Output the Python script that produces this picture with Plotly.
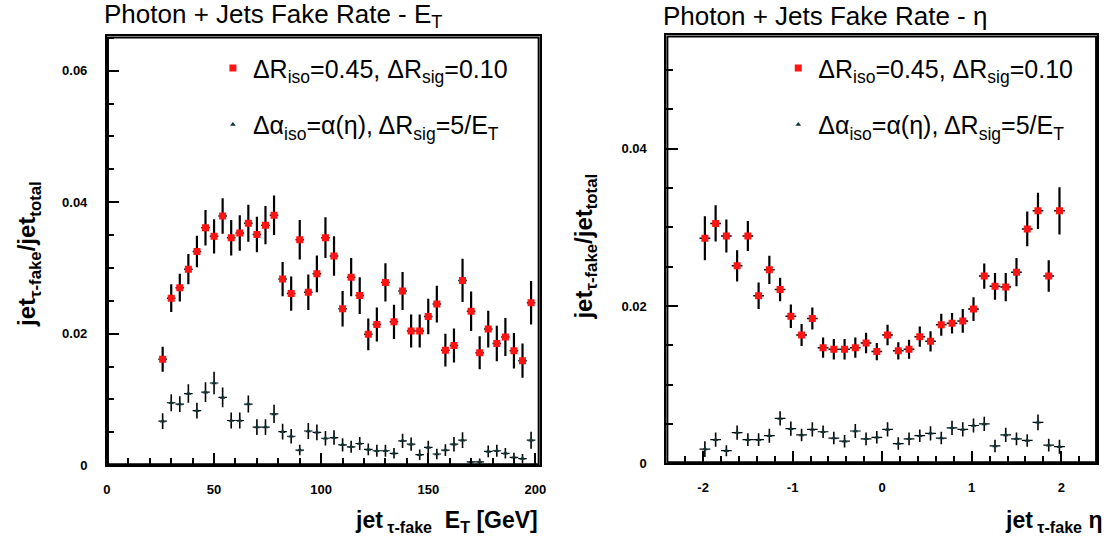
import plotly.graph_objects as go

# ---------------- data ----------------
et_centers = [26, 30, 34, 38, 42, 46, 50, 54, 58, 62, 66, 70, 74, 78, 82, 86, 90, 94, 98,
              102, 106, 110, 114, 118, 122, 126, 130, 134, 138, 142, 146, 150, 154, 158,
              162, 166, 170, 174, 178, 182, 186, 190, 194, 198]
et_red = [0.0161, 0.0254, 0.0270, 0.0298, 0.0325, 0.0361, 0.0348, 0.0379, 0.0346, 0.0353,
          0.0368, 0.0351, 0.0365, 0.0380, 0.0283, 0.0261, 0.0343, 0.0263, 0.0291, 0.0346,
          0.0318, 0.0238, 0.0286, 0.0258, 0.0199, 0.0214, 0.0278, 0.0218, 0.0265, 0.0204,
          0.0204, 0.0226, 0.0245, 0.0175, 0.0182, 0.0281, 0.0234, 0.0171, 0.0207, 0.0185,
          0.0195, 0.0174, 0.0159, 0.0247]
et_red_err = [0.0019, 0.0021, 0.0021, 0.0023, 0.0024, 0.0027, 0.0026, 0.0027, 0.0027, 0.0027,
              0.0028, 0.0027, 0.0029, 0.0030, 0.0026, 0.0026, 0.0030, 0.0027, 0.0028, 0.0031,
              0.0030, 0.0027, 0.0029, 0.0028, 0.0024, 0.0026, 0.0029, 0.0026, 0.0029, 0.0025,
              0.0025, 0.0027, 0.0028, 0.0025, 0.0026, 0.0033, 0.0030, 0.0025, 0.0028, 0.0027,
              0.0029, 0.0027, 0.0026, 0.0033]
et_grn = [0.0067, 0.0095, 0.0093, 0.0109, 0.0083, 0.0111, 0.0125, 0.0103, 0.0068, 0.0068,
          0.0093, 0.0058, 0.0058, 0.0078, 0.0051, 0.0044, 0.0023, 0.0052, 0.0050, 0.0041,
          0.0042, 0.0031, 0.0028, 0.0033, 0.0024, 0.0022, 0.0022, 0.0018, 0.0037, 0.0032,
          0.0016, 0.0027, 0.0017, 0.0023, 0.0032, 0.0038, 0.0005, 0.0005, 0.0021, 0.0022,
          0.0018, 0.0012, 0.0010, 0.0038]
et_grn_err = [0.0012, 0.0013, 0.0012, 0.0014, 0.0012, 0.0015, 0.0017, 0.0015, 0.0012, 0.0012,
              0.0013, 0.0012, 0.0012, 0.0014, 0.0012, 0.0011, 0.0008, 0.0012, 0.0012, 0.0011,
              0.0011, 0.0010, 0.0009, 0.0010, 0.0009, 0.0009, 0.0009, 0.0008, 0.0011, 0.0010,
              0.0008, 0.0010, 0.0008, 0.0009, 0.0011, 0.0012, 0.0005, 0.0005, 0.0009, 0.0009,
              0.0008, 0.0007, 0.0007, 0.0013]

eta_centers = [-1.98, -1.86, -1.74, -1.62, -1.50, -1.38, -1.26, -1.14, -1.02, -0.90, -0.78,
               -0.66, -0.54, -0.42, -0.30, -0.18, -0.06, 0.06, 0.18, 0.30, 0.42, 0.54, 0.66,
               0.78, 0.90, 1.02, 1.14, 1.26, 1.38, 1.50, 1.62, 1.74, 1.86, 1.98]
eta_red = [0.0286, 0.0305, 0.0289, 0.0251, 0.0289, 0.0213, 0.0246, 0.0221, 0.0187, 0.0163,
           0.0184, 0.0147, 0.0145, 0.0145, 0.0147, 0.0153, 0.0142, 0.0163, 0.0143, 0.0145,
           0.0161, 0.0155, 0.0176, 0.0178, 0.0181, 0.0196, 0.0238, 0.0225, 0.0224, 0.0243,
           0.0298, 0.0321, 0.0238, 0.0321]
eta_red_err = [0.0028, 0.0023, 0.0021, 0.0020, 0.0019, 0.0017, 0.0018, 0.0015, 0.0015, 0.0014,
               0.0014, 0.0013, 0.0013, 0.0013, 0.0013, 0.0013, 0.0011, 0.0013, 0.0011, 0.0012,
               0.0013, 0.0013, 0.0014, 0.0013, 0.0015, 0.0015, 0.0016, 0.0017, 0.0018, 0.0018,
               0.0022, 0.0023, 0.0020, 0.0030]
eta_grn = [0.0018, 0.0030, 0.0016, 0.0039, 0.0030, 0.0030, 0.0035, 0.0057, 0.0044, 0.0036,
           0.0043, 0.0040, 0.0032, 0.0028, 0.0041, 0.0031, 0.0033, 0.0043, 0.0025, 0.0031,
           0.0035, 0.0038, 0.0032, 0.0045, 0.0043, 0.0048, 0.0050, 0.0022, 0.0036, 0.0031,
           0.0029, 0.0052, 0.0023, 0.0021]
eta_grn_err = [0.0010, 0.0009, 0.0007, 0.0009, 0.0008, 0.0008, 0.0009, 0.0009, 0.0009, 0.0008,
               0.0009, 0.0008, 0.0008, 0.0008, 0.0009, 0.0008, 0.0008, 0.0009, 0.0008, 0.0008,
               0.0008, 0.0009, 0.0008, 0.0009, 0.0009, 0.0009, 0.0009, 0.0008, 0.0009, 0.0008,
               0.0008, 0.0010, 0.0008, 0.0009]

et_bin_half = 2.0
eta_bin_half = 0.06

# axis ranges
et_range = [0, 202]
eta_range = [-2.41, 2.40]
yl_range = [0, 0.0652]
yr_range = [0, 0.0544]

et_tickvals = [0, 50, 100, 150, 200]
eta_tickvals = [-2, -1, 0, 1, 2]
eta_ticktext = ["-2", "-1", "0", "1", "2"]
ylt_tickvals = [0, 0.02, 0.04, 0.06]
ylt_ticktext = ["0", "0.02", "0.04", "0.06"]
yrt_tickvals = [0, 0.02, 0.04]
yrt_ticktext = ["0", "0.02", "0.04"]

label_red = "ΔR<sub>iso</sub>=0.45, ΔR<sub>sig</sub>=0.10"
label_grn = "Δα<sub>iso</sub>=α(η), ΔR<sub>sig</sub>=5/E<sub>T</sub>"

title_et = "Photon + Jets Fake Rate - E<sub>T</sub>"
title_eta = "Photon + Jets Fake Rate - η"
ytitle = "jet<sub>τ-fake</sub>/jet<sub>total</sub>"
xtitle_et = "jet<sub>\u00a0τ-fake</sub>\u00a0\u00a0E<sub>T</sub> [GeV]"
xtitle_eta = "jet<sub>\u00a0τ-fake</sub>\u00a0η"

# ---------------- styling ----------------
FONT = "Liberation Sans, Arial, Helvetica, sans-serif"
RED = "#ff1414"
GRN = "#0d3436"
W, H = 1112, 555


def px_x(p):
    return p / W


def px_y(p):
    return 1 - p / H


fig = go.Figure()


def add_frame(xr, yr, xa, ya):
    # box outline around the plotting area, following the axis ranges
    fig.add_trace(go.Scatter(
        x=[xr[0], xr[1], xr[1], xr[0], xr[0]], y=[yr[0], yr[0], yr[1], yr[1], yr[0]],
        mode="lines", line=dict(color="black", width=4), xaxis=xa, yaxis=ya,
        showlegend=False, hoverinfo="skip",
    ))


def add_pair(x, r, re, g, ge, half, xa, ya, leg, grp):
    fig.add_trace(go.Scatter(
        x=x, y=r, mode="markers", name=label_red, xaxis=xa, yaxis=ya,
        legend=leg, legendgroup=grp + "r",
        marker=dict(symbol="square", size=7, color=RED),
        error_y=dict(type="data", array=re, color="black", thickness=2.2, width=0),
        error_x=dict(type="constant", value=half, color="black", thickness=1.5, width=0),
    ))
    fig.add_trace(go.Scatter(
        x=x, y=g, mode="markers", name=label_grn, xaxis=xa, yaxis=ya,
        legend=leg, legendgroup=grp + "g",
        marker=dict(symbol="triangle-up", size=5, color=GRN),
        error_y=dict(type="data", array=ge, color="black", thickness=1.6, width=0),
        error_x=dict(type="constant", value=half, color="black", thickness=1.2, width=0),
    ))


add_frame(et_range, yl_range, "x", "y")
add_frame(eta_range, yr_range, "x2", "y2")
add_pair(et_centers, et_red, et_red_err, et_grn, et_grn_err, et_bin_half, "x", "y", "legend", "L")
add_pair(eta_centers, eta_red, eta_red_err, eta_grn, eta_grn_err, eta_bin_half, "x2", "y2", "legend2", "R")

axis_common = dict(
    showline=True, linecolor="black", linewidth=2, mirror=True,
    ticks="inside", tickcolor="black", tickwidth=1.5, ticklen=12,
    showgrid=False, zeroline=False, layer="above traces",
    tickfont=dict(family=FONT, size=13, color="black", weight="bold"),
)
minor_common = dict(ticks="inside", ticklen=7, tickcolor="black", tickwidth=1.5, showgrid=False)

legend_common = dict(
    font=dict(family=FONT, size=25, color="black"),
    bgcolor="rgba(0,0,0,0)", borderwidth=0,
    traceorder="grouped", tracegroupgap=21,
    xanchor="left", yanchor="top",
)

fig.update_layout(
    width=W, height=H,
    margin=dict(l=0, r=0, t=0, b=0),
    paper_bgcolor="white", plot_bgcolor="white",
    font=dict(family=FONT, color="black"),
    xaxis=dict(domain=[px_x(104), px_x(541)], range=et_range, anchor="y",
               tickvals=et_tickvals, ticklabelstandoff=11,
               minor=dict(dtick=10, **minor_common), **axis_common),
    yaxis=dict(domain=[px_y(472), px_y(37)], range=yl_range, anchor="x",
               tickvals=ylt_tickvals, ticktext=ylt_ticktext, ticklabelstandoff=15,
               minor=dict(dtick=0.005, **minor_common), **axis_common),
    xaxis2=dict(domain=[px_x(669), px_x(1104)], range=eta_range, anchor="y2",
                tickvals=eta_tickvals, ticktext=eta_ticktext, ticklabelstandoff=11,
                minor=dict(dtick=0.2, tick0=0, **minor_common), **axis_common),
    yaxis2=dict(domain=[px_y(470), px_y(36)], range=yr_range, anchor="x2",
                tickvals=yrt_tickvals, ticktext=yrt_ticktext, ticklabelstandoff=15,
                minor=dict(dtick=0.005, **minor_common), **axis_common),
    legend=dict(x=px_x(211), y=px_y(46), **legend_common),
    legend2=dict(x=px_x(782), y=px_y(46), **legend_common),
    showlegend=True,
)

ann = []
ann.append(dict(text=title_et, x=px_x(99), y=px_y(16), xref="paper", yref="paper",
                xanchor="left", yanchor="middle", showarrow=False,
                font=dict(family=FONT, size=26, color="black")))
ann.append(dict(text=title_eta, x=px_x(664), y=px_y(16), xref="paper", yref="paper",
                xanchor="left", yanchor="middle", showarrow=False,
                font=dict(family=FONT, size=26, color="black")))
ann.append(dict(text=ytitle, x=px_x(25), y=px_y(258), xref="paper", yref="paper",
                xanchor="center", yanchor="middle", textangle=-90, showarrow=False,
                font=dict(family=FONT, size=24, color="black", weight="bold")))
ann.append(dict(text=ytitle, x=px_x(587), y=px_y(250), xref="paper", yref="paper",
                xanchor="center", yanchor="middle", textangle=-90, showarrow=False,
                font=dict(family=FONT, size=24, color="black", weight="bold")))
ann.append(dict(text=xtitle_et, x=px_x(541), y=px_y(512), xref="paper", yref="paper",
                xanchor="right", yanchor="top", showarrow=False,
                font=dict(family=FONT, size=23, color="black", weight="bold")))
ann.append(dict(text=xtitle_eta, x=px_x(1112), y=px_y(512), xref="paper", yref="paper",
                xanchor="right", yanchor="top", showarrow=False,
                font=dict(family=FONT, size=23, color="black", weight="bold")))
fig.update_layout(annotations=ann)

fig.write_html("out.html", config={"displayModeBar": False},
               post_script="document.body.style.margin='0px';")
